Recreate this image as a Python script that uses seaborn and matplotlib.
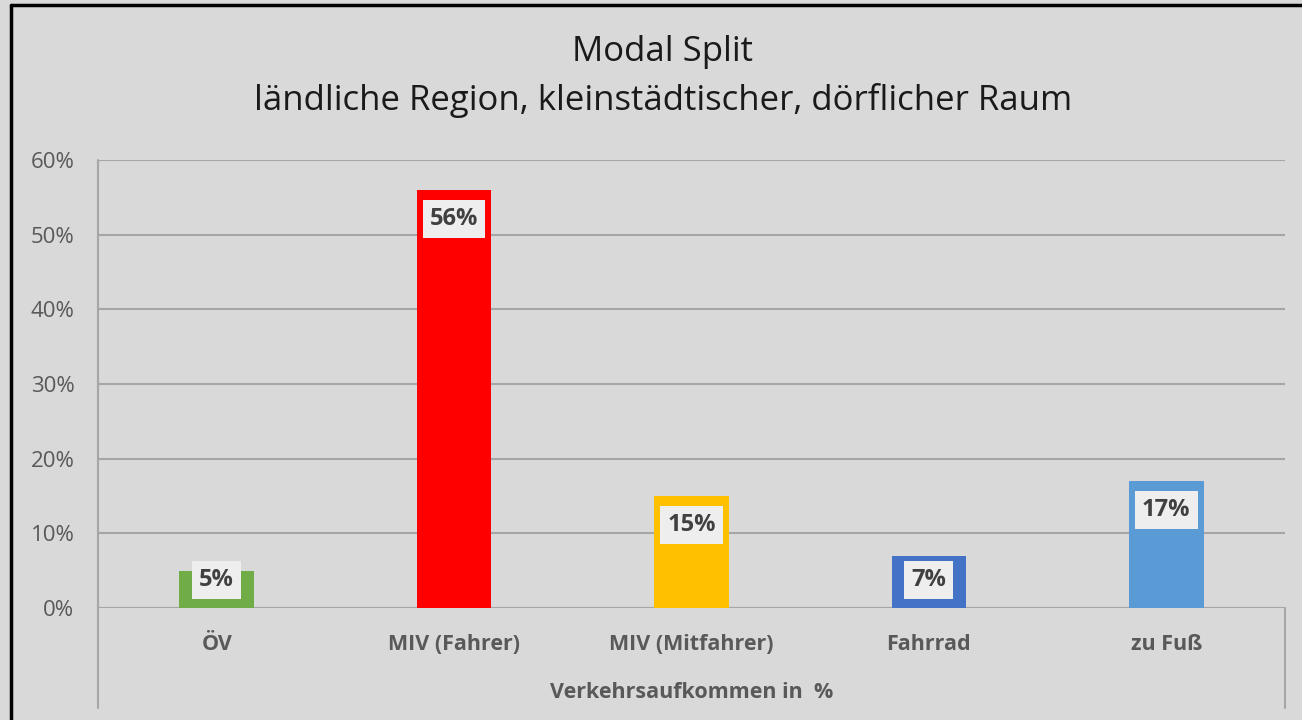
import matplotlib
matplotlib.use("Agg")
import matplotlib.pyplot as plt
import seaborn as sns
import pandas as pd
from matplotlib.lines import Line2D
from matplotlib.ticker import FuncFormatter

# Data
modes = ["ÖV", "MIV (Fahrer)", "MIV (Mitfahrer)", "Fahrrad", "zu Fuß"]
shares = [5, 56, 15, 7, 17]
colors = ["#70ad47", "#ff0000", "#ffc000", "#4472c4", "#5b9bd5"]
yticks = [0, 10, 20, 30, 40, 50, 60]

frame = pd.DataFrame({"mode": modes, "share": shares})

sns.set_theme(style="white")
plt.rcParams["font.family"] = ["Open Sans", "DejaVu Sans"]

bg = "#d9d9d9"
grid = "#a6a6a6"

fig = plt.figure(figsize=(13.02, 7.2), dpi=100, facecolor=bg)
ax = fig.add_axes([98 / 1302, 1 - 608 / 720, (1285 - 98) / 1302, 448 / 720])
ax.set_facecolor(bg)

sns.barplot(
    data=frame, x="mode", y="share", hue="mode",
    palette=colors, width=0.315, legend=False, ax=ax,
    saturation=1, zorder=3, linewidth=0, edgecolor="none"
)

ax.set_xlim(-0.5, 4.5)
ax.set_ylim(0, 60)
ax.set_yticks(yticks)
ax.yaxis.set_major_formatter(FuncFormatter(lambda v, p: f"{v:.0f}%"))
ax.grid(axis="y", color=grid, linewidth=1.5, zorder=0)
ax.grid(axis="x", visible=False)
for s in ax.spines.values():
    s.set_visible(False)
ax.tick_params(axis="both", length=0)
ax.tick_params(axis="y", labelsize=16, labelcolor="#595959", pad=17)
ax.tick_params(axis="x", labelsize=15.5, labelcolor="#595959", pad=19)
for t in ax.get_xticklabels():
    t.set_fontweight("bold")
ax.set_xlabel("Verkehrsaufkommen in  %", fontsize=15.5, fontweight="bold",
              color="#595959", labelpad=19)
ax.set_ylabel("")

# category axis frame
ext = -100 / 448
ax.add_line(Line2D([0, 0], [1, ext], transform=ax.transAxes, color=grid,
                   lw=1.5, clip_on=False, zorder=1))
ax.add_line(Line2D([1, 1], [0, ext], transform=ax.transAxes, color=grid,
                   lw=1.5, clip_on=False, zorder=1))
ax.axhline(0, color=grid, lw=1.5, zorder=2)

# value labels
for i, v in enumerate(shares):
    ax.text(i, max(v - 3.9, 3.75), f"{v}%", ha="center", va="center",
            fontsize=17, fontweight="bold", color="#404040", zorder=5,
            bbox=dict(boxstyle="square,pad=0.3", fc="#eeeeee", ec="none"))

fig.text(663 / 1302, 1 - 52 / 720, "Modal Split", ha="center", va="center",
         fontsize=25, color="#1a1a1a")
fig.text(663 / 1302, 1 - 100 / 720,
         "ländliche Region, kleinstädtischer, dörflicher Raum",
         ha="center", va="center", fontsize=25, color="#1a1a1a")

# outer border (left and top only visible)
fig.add_artist(Line2D([11 / 1302, 11 / 1302], [0, 1 - 5 / 720],
                      transform=fig.transFigure, color="black", lw=2.5))
fig.add_artist(Line2D([11 / 1302, 1], [1 - 5 / 720, 1 - 5 / 720],
                      transform=fig.transFigure, color="black", lw=2.5))

fig.savefig("out.png", dpi=100, facecolor=bg)
